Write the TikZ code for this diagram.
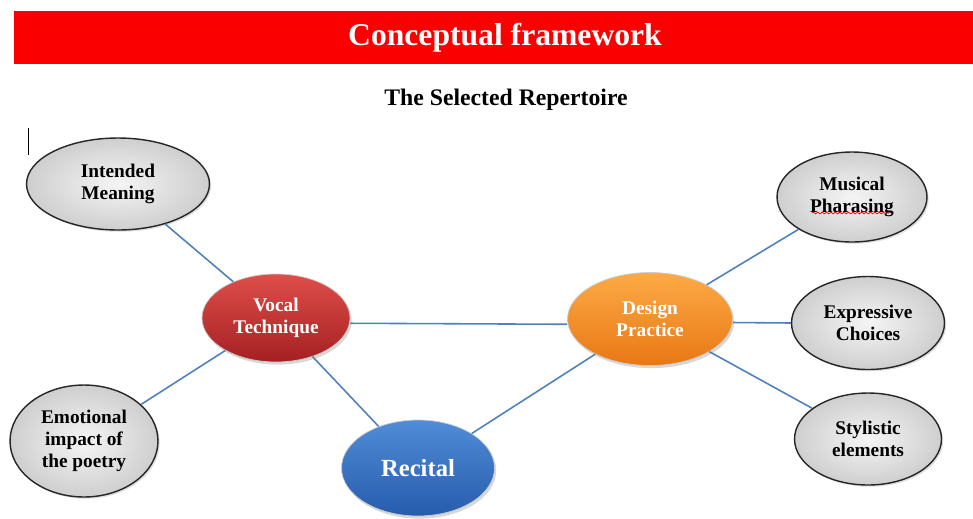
\documentclass[tikz,border=0pt]{standalone}
\usepackage{fontspec}
\setmainfont{Liberation Serif}
\usetikzlibrary{shapes.geometric, shadows, shadings, decorations.pathmorphing, positioning}
\definecolor{Banner}{RGB}{250, 0, 0}
\definecolor{Link}{RGB}{79, 129, 189}
\definecolor{VocalTop}{RGB}{222, 78, 74}
\definecolor{VocalBot}{RGB}{165, 32, 34}
\definecolor{DesignTop}{RGB}{252, 170, 70}
\definecolor{DesignBot}{RGB}{232, 120, 20}
\definecolor{RecitalTop}{RGB}{80, 140, 215}
\definecolor{RecitalBot}{RGB}{38, 92, 172}

\begin{document}
\begin{tikzpicture}[
        x=0.02cm, y=-0.02cm,
        every node/.style={align=center, inner sep=0pt},
        idea/.style={ellipse, draw=black!85, thick, inner color=gray!8, outer color=gray!38,
            drop shadow={opacity=0.25, shadow xshift=1pt, shadow yshift=-1pt},
            font=\bfseries\fontsize{11}{12.5}\selectfont},
        hub/.style={ellipse, text=white, draw=black!20,
            drop shadow={opacity=0.3, shadow xshift=1pt, shadow yshift=-1.5pt},
            font=\bfseries\fontsize{11}{12.5}\selectfont},
        link/.style={draw=Link, line width=0.9pt}
    ]
        \useasboundingbox[fill=white] (0,0) rectangle (973,518);

        % Banner
        \fill[Banner] (14,11) rectangle (973,64);
        \node[text=white, font=\bfseries\fontsize{18}{21}\selectfont] (title) at (505,38) {Conceptual framework};
        \node[font=\bfseries\fontsize{13.5}{15}\selectfont] (sub) at (506,100) {The Selected Repertoire};
        \draw[black, thin] (28,128) -- (28,155);

        % Hubs
        \node[hub, top color=VocalTop, bottom color=VocalBot, minimum width=2.96cm, minimum height=1.76cm] (vocal) at (276,318) {Vocal\\Technique};
        \node[hub, top color=DesignTop, bottom color=DesignBot, minimum width=3.3cm, minimum height=1.86cm] (design) at (650,319) {Design\\Practice};
        \node[hub, top color=RecitalTop, bottom color=RecitalBot, minimum width=3.06cm, minimum height=1.92cm,
            font=\bfseries\fontsize{14}{16}\selectfont] (recital) at (418,468) {Recital};

        % Left ideas
        \node[idea, minimum width=3.66cm, minimum height=1.84cm] (meaning) at (118,184) {Intended\\Meaning};
        \node[idea, minimum width=2.96cm, minimum height=2.24cm] (impact) at (84,441) {Emotional\\impact of\\the poetry};

        % Right ideas
        \node[idea, minimum width=3.0cm, minimum height=1.8cm] (phrasing) at (852,197) {Musical\\Pharasing};
        \node[idea, minimum width=3.06cm, minimum height=1.86cm] (choices) at (868,323) {Expressive\\Choices};
        \node[idea, minimum width=2.94cm, minimum height=1.84cm] (styles) at (868,439) {Stylistic\\elements};
        \draw[red, line width=0.4pt, decorate, decoration={snake, amplitude=0.5pt, segment length=2.5pt}] (812,213) -- (889,213);

        % Links
        \draw[link] (meaning) -- (vocal);
        \draw[link] ([yshift=-3pt]vocal.east) -- ([yshift=-3pt]design.west);
        \draw[link] (vocal) -- (recital);
        \draw[link] (vocal) -- (impact);
        \draw[link] (design) -- (recital);
        \draw[link] (design) -- (phrasing);
        \draw[link] ([yshift=-2pt]design.east) -- (choices.west);
        \draw[link] (design) -- (styles);
    \end{tikzpicture}
\end{document}
